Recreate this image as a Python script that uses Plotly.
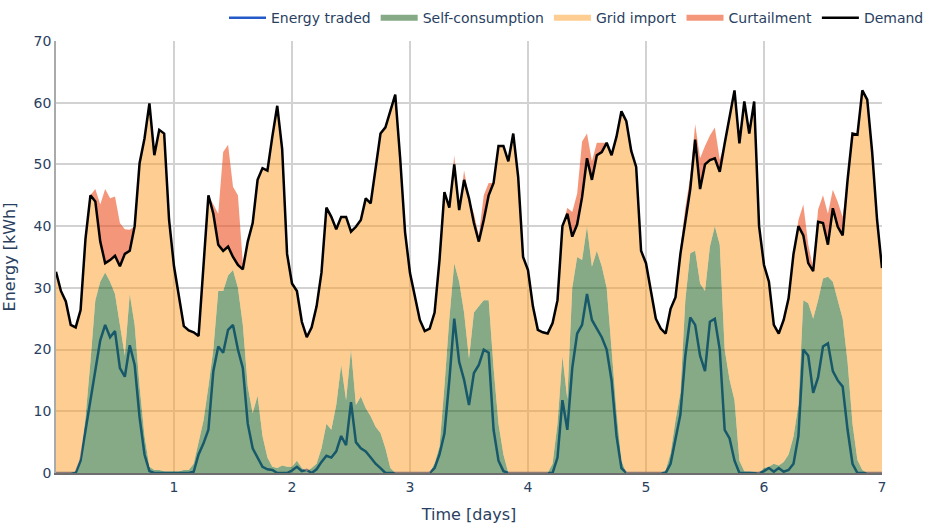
import plotly.graph_objects as go

# Hourly energy flows over one week (kWh), hour 0 .. hour 168
demand = [
    32.6, 29.5, 27.8, 24.0, 23.6, 26.4, 38.0, 45.0, 44.0, 37.5, 34.0, 34.5,
    35.2, 33.5, 35.5, 36.0, 40.0, 50.2, 54.2, 59.9, 51.5, 55.6, 55.0, 41.0,
    33.5, 28.6, 23.8, 23.1, 22.8, 22.2, 33.0, 45.0, 42.0, 37.0, 36.0, 36.7,
    35.0, 33.7, 33.0, 37.5, 40.5, 47.5, 49.4, 49.0, 54.5, 59.5, 52.5, 35.5,
    30.7, 29.5, 24.5, 22.0, 23.6, 27.0, 32.5, 43.0, 41.5, 39.5, 41.5, 41.5,
    39.1, 39.9, 41.0, 44.5, 43.7, 49.5, 55.0, 56.0, 58.8, 61.3, 51.0, 39.0,
    32.4, 28.8, 24.8, 23.0, 23.4, 26.0, 34.5, 45.5, 43.0, 50.0, 42.6, 47.5,
    44.5, 40.5, 37.5, 41.0, 45.0, 47.0, 53.0, 53.0, 50.5, 55.0, 48.0, 35.0,
    32.9, 27.0, 23.2, 22.8, 22.6, 24.3, 28.0, 40.0, 42.0, 38.3, 40.3, 44.7,
    51.0, 47.5, 51.5, 52.0, 53.5, 51.5, 54.5, 58.6, 57.0, 52.2, 49.6, 36.0,
    34.0, 29.5, 25.0, 23.4, 22.6, 26.6, 28.5, 35.5, 41.0, 46.0, 54.0, 46.0,
    50.0, 50.7, 51.0, 48.8, 53.4, 58.0, 62.0, 53.4, 60.2, 55.0, 60.2, 40.0,
    33.7, 31.0, 24.0, 22.6, 24.8, 28.3, 35.5, 40.0, 38.5, 34.0, 32.7, 40.7,
    40.5, 37.0, 42.9, 39.9, 38.5, 47.5, 55.0, 54.8, 62.0, 60.5, 52.0, 41.0,
    33.2,
]

self_consumption = [
    0.0, 0.0, 0.0, 0.0, 0.3, 2.5, 9.0, 18.0, 28.0, 31.0, 32.5, 31.0,
    29.0, 24.0, 19.0, 29.0, 24.0, 14.0, 6.0, 1.0, 0.5, 0.5, 0.3, 0.3,
    0.3, 0.3, 0.5, 0.5, 1.5, 5.0, 8.5, 14.0, 20.0, 29.5, 29.5, 32.0,
    32.9, 30.0, 24.0, 14.0, 9.7, 12.5, 6.0, 2.5, 1.0, 0.8, 1.2, 1.0,
    1.0, 2.0, 0.8, 0.3, 0.8, 1.5, 4.0, 8.0, 7.0, 11.0, 17.5, 11.8,
    20.0, 11.0, 12.4, 10.5, 9.2, 7.5, 6.5, 4.0, 0.8, 0.0, 0.0, 0.0,
    0.0, 0.0, 0.0, 0.0, 0.0, 1.6, 4.3, 14.0, 25.0, 34.0, 31.0, 26.0,
    18.5, 26.0, 27.0, 28.0, 28.0, 17.0, 8.0, 3.0, 0.0, 0.0, 0.0, 0.0,
    0.0, 0.0, 0.0, 0.0, 0.0, 1.5, 8.0, 18.9, 12.0, 30.0, 35.0, 34.5,
    40.0, 33.4, 36.0, 33.5, 30.0, 20.0, 10.0, 2.0, 0.0, 0.0, 0.0, 0.0,
    0.0, 0.0, 0.0, 0.0, 0.5, 3.2, 8.5, 13.0, 28.0, 35.6, 36.0, 30.7,
    29.5, 36.7, 40.0, 37.0, 20.0, 15.1, 11.8, 2.0, 0.3, 0.3, 0.2, 0.0,
    0.8, 1.0, 1.5, 1.2, 1.8, 3.0, 5.9, 11.0, 28.0, 27.5, 25.0, 28.0,
    31.5, 31.8, 31.0, 28.0, 25.0, 18.0, 8.0, 2.1, 0.5, 0.0, 0.0, 0.0,
    0.0,
]

curtailment = [
    0.0, 0.0, 0.0, 0.0, 0.0, 0.0, 0.0, 0.0, 2.0, 6.0, 12.0, 10.0,
    9.6, 7.0, 4.0, 3.4, 0.0, 0.0, 0.0, 0.0, 0.0, 0.0, 0.0, 0.0,
    0.0, 0.0, 0.0, 0.0, 0.0, 0.0, 0.0, 0.0, 1.5, 5.0, 16.0, 16.5,
    11.4, 11.3, 1.0, 0.0, 0.0, 0.0, 0.0, 0.0, 0.0, 0.0, 0.0, 0.0,
    0.0, 0.0, 0.0, 0.0, 0.0, 0.0, 0.0, 0.0, 0.0, 0.0, 0.0, 0.0,
    0.0, 0.0, 0.0, 0.0, 0.0, 0.0, 0.0, 0.0, 0.0, 0.0, 0.0, 0.0,
    0.0, 0.0, 0.0, 0.0, 0.0, 0.0, 0.0, 0.0, 0.0, 1.5, 0.0, 1.5,
    0.0, 1.5, 1.0, 4.0, 2.0, 0.0, 0.0, 0.0, 0.0, 0.0, 0.0, 0.0,
    0.0, 0.0, 0.0, 0.0, 0.0, 0.0, 0.0, 0.0, 1.0, 4.0, 5.0, 9.0,
    4.0, 3.0, 2.0, 1.5, 0.0, 0.0, 0.0, 0.0, 0.0, 0.0, 0.0, 0.0,
    0.0, 0.0, 0.0, 0.0, 0.0, 0.0, 0.0, 1.0, 2.0, 2.0, 2.5, 5.0,
    3.0, 4.0, 5.0, 2.0, 0.0, 0.0, 0.0, 0.0, 0.0, 0.0, 0.0, 0.0,
    0.0, 0.0, 0.0, 0.0, 0.0, 0.0, 0.0, 1.0, 5.0, 3.0, 0.5, 2.0,
    4.5, 5.0, 3.0, 4.0, 3.0, 0.0, 0.0, 0.0, 0.0, 0.0, 0.0, 0.0,
    0.0,
]

energy_traded = [
    0.0, 0.0, 0.0, 0.0, 0.0, 2.0, 7.0, 12.0, 17.0, 21.5, 24.0, 22.0,
    23.0, 17.0, 15.6, 20.7, 17.5, 9.0, 3.0, 0.3, 0.0, 0.0, 0.0, 0.0,
    0.0, 0.0, 0.0, 0.0, 0.2, 3.0, 4.8, 7.0, 16.5, 20.5, 19.5, 23.2,
    24.0, 20.0, 17.0, 8.0, 4.0, 2.5, 1.0, 0.6, 0.5, 0.0, 0.0, 0.0,
    0.4, 1.0, 0.3, 0.5, 0.0, 0.6, 1.8, 2.8, 2.5, 3.5, 6.0, 4.5,
    11.5, 5.0, 4.0, 3.5, 2.5, 1.5, 0.8, 0.0, 0.0, 0.0, 0.0, 0.0,
    0.0, 0.0, 0.0, 0.0, 0.0, 0.8, 3.0, 6.4, 15.0, 25.0, 18.0, 15.1,
    11.0, 16.2, 17.5, 20.0, 19.5, 7.0, 2.0, 0.3, 0.0, 0.0, 0.0, 0.0,
    0.0, 0.0, 0.0, 0.0, 0.0, 0.0, 2.5, 11.8, 7.0, 17.0, 22.6, 24.0,
    29.0, 24.8, 23.4, 22.0, 20.0, 15.0, 6.0, 0.8, 0.0, 0.0, 0.0, 0.0,
    0.0, 0.0, 0.0, 0.0, 0.0, 1.5, 5.5, 9.5, 19.0, 25.2, 24.0, 19.0,
    16.5, 24.5, 25.0, 20.0, 7.0, 5.6, 2.0, 0.0, 0.0, 0.0, 0.0, 0.0,
    0.3, 0.8, 0.2, 0.8, 0.2, 0.5, 1.5, 6.0, 20.0, 19.0, 13.0, 15.5,
    20.5, 21.0, 16.5, 15.0, 14.0, 7.0, 1.5, 0.0, 0.0, 0.0, 0.0, 0.0,
    0.0,
]

day_ticks = [1, 2, 3, 4, 5, 6, 7]

time_days = [h / 24 for h in range(len(demand))]
curtail_top = [d + c for d, c in zip(demand, curtailment)]

fig = go.Figure()

fig.add_trace(go.Scatter(
    x=time_days, y=energy_traded, name="Energy traded", mode="lines",
    line=dict(color="rgb(35,90,200)", width=2.5),
))
fig.add_trace(go.Scatter(
    x=time_days, y=self_consumption, name="Self-consumption", mode="none",
    fill="tozeroy", fillcolor="rgba(11,85,11,0.5)",
))
fig.add_trace(go.Scatter(
    x=time_days, y=demand, name="Grid import", mode="none",
    fill="tonexty", fillcolor="rgba(251,155,35,0.5)",
))
fig.add_trace(go.Scatter(
    x=time_days, y=curtail_top, name="Curtailment", mode="none",
    fill="tonexty", fillcolor="rgba(237,80,33,0.6)",
))
fig.add_trace(go.Scatter(
    x=time_days, y=demand, name="Demand", mode="lines",
    line=dict(color="black", width=2.5),
))

fig.update_layout(
    width=929, height=526,
    margin=dict(l=56, r=47, t=41, b=53),
    paper_bgcolor="white", plot_bgcolor="white",
    font=dict(family="Verdana, DejaVu Sans, sans-serif", size=14, color="#2a3f5f"),
    legend=dict(
        orientation="h", xref="container", yref="container",
        x=1.0, xanchor="right", y=0.996, yanchor="top",
        traceorder="normal", itemwidth=37,
        font=dict(size=14), bgcolor="rgba(0,0,0,0)",
    ),
    showlegend=True,
)
fig.update_xaxes(
    range=[0, 7], tickvals=day_ticks, automargin=False,
    title=dict(text="Time [days]", font=dict(size=16)),
    showgrid=True, gridcolor="rgb(210,210,210)", gridwidth=2,
    showline=True, linecolor="rgb(110,110,110)", linewidth=2,
    zeroline=False, ticks="",
)
fig.update_yaxes(
    range=[0, 70], dtick=10, automargin=False,
    title=dict(text="Energy [kWh]", font=dict(size=16)),
    showgrid=True, gridcolor="rgb(210,210,210)", gridwidth=2,
    showline=True, linecolor="rgb(170,170,170)", linewidth=1.5,
    zeroline=False, ticks="",
)

fig.write_html("out.html")
